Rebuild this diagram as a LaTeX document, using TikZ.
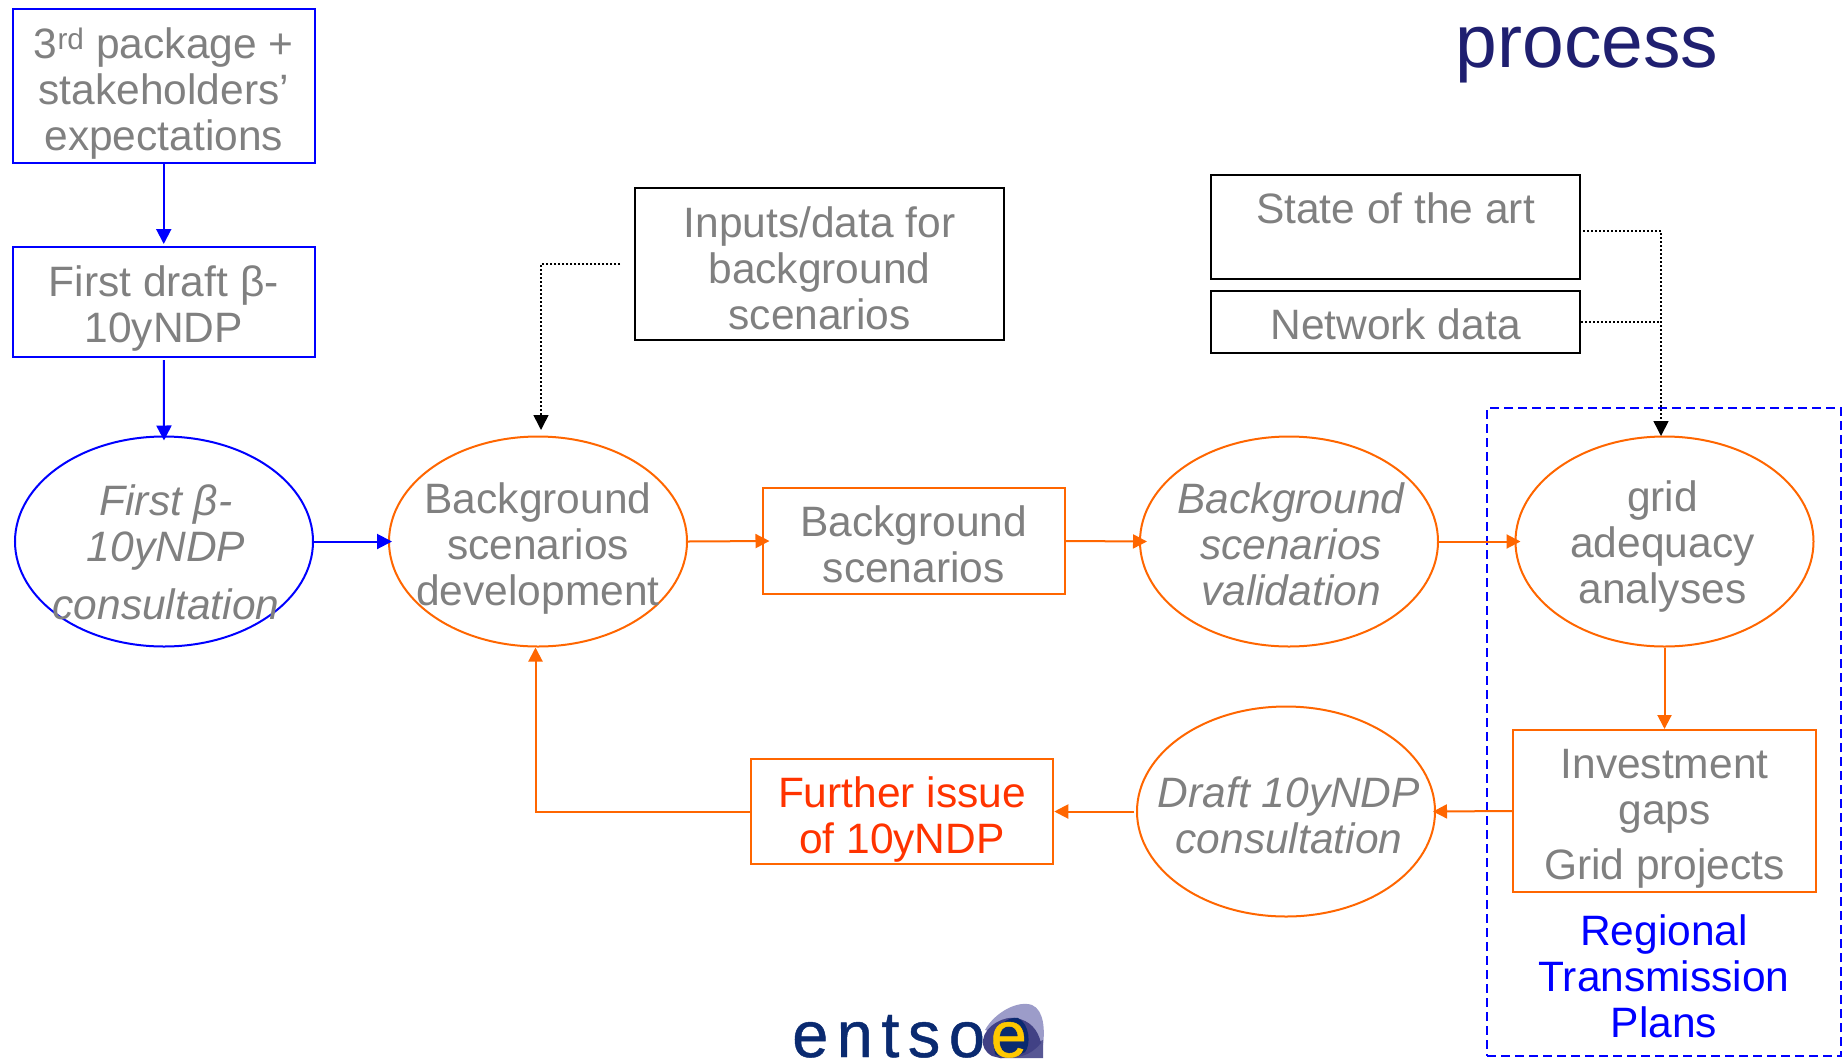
\documentclass[tikz,border=0pt]{standalone}
\usepackage{fontspec}
\setmainfont{Liberation Sans}
\usetikzlibrary{arrows.meta,shapes.geometric}
\definecolor{bluel}{HTML}{0000FF}
\definecolor{orangel}{HTML}{FF6600}
\definecolor{greyt}{HTML}{808080}
\definecolor{redt}{HTML}{FF3300}
\definecolor{navyt}{HTML}{1F1F70}
\definecolor{logon}{HTML}{0A2A70}
\definecolor{logoy}{HTML}{FFC800}
\tikzset{
  pbox/.style={draw,line width=2pt,rectangle,inner sep=0pt},
  pell/.style={draw,line width=2pt,ellipse,inner sep=0pt,minimum width=298pt,minimum height=210pt},
  txt/.style={align=center,text=greyt,inner sep=0pt,font=\fontsize{42.5}{46}\selectfont},
  itxt/.style={txt,font=\fontsize{42.5}{46}\selectfont\itshape},
  barrow/.style={line width=2pt,draw=bluel,-{Triangle[length=15pt,width=15pt,fill=bluel]}},
  oarrow/.style={line width=2pt,draw=orangel,-{Triangle[length=14pt,width=14pt,fill=orangel]}},
  karrow/.style={line width=1.6pt,dash pattern=on 1.6pt off 2.4pt,-{Triangle[length=15pt,width=15pt,fill=black]}},
  kline/.style={line width=1.6pt,dash pattern=on 1.6pt off 2.4pt}
}
\begin{document}
\begin{tikzpicture}[x=1pt,y=-1pt]
\useasboundingbox (0,0) rectangle (1845,1058);
% dashed region
\node[draw=bluel,dashed,line width=2pt,minimum width=354pt,minimum height=648pt,inner sep=0pt,dash pattern=on 9pt off 5pt] (region) at (1664,732) {};
% boxes
\node[pbox,draw=bluel,minimum width=302.5pt,minimum height=154pt] (b1) at (163.75,86) {};
\node[txt,yshift=-8pt] (t1) at (b1) {3\textsuperscript{rd} package +\\stakeholders’\\expectations};
\node[pbox,draw=bluel,minimum width=302.5pt,minimum height=110pt] (b2) at (163.75,302) {};
\node[txt,yshift=-6.5pt] (t2) at (b2) {First draft β-\\10yNDP};
\node[pbox,minimum width=369pt,minimum height=152pt] (inp) at (819.5,264) {};
\node[txt,yshift=-4pt] (t3) at (inp) {Inputs/data for\\background\\scenarios};
\node[pbox,minimum width=369pt,minimum height=104pt] (state) at (1395.5,227) {};
\node[txt,yshift=-4pt] (t4) at (state) {State of the art\\\mbox{}};
\node[pbox,minimum width=369pt,minimum height=62pt] (net) at (1395.5,322) {};
\node[txt,yshift=-2pt] (t5) at (net) {Network data};
\node[pbox,draw=orangel,minimum width=302.5pt,minimum height=106pt] (bg) at (913.75,541) {};
\node[txt,yshift=-3pt] (t6) at (bg) {Background\\scenarios};
\node[pbox,draw=orangel,minimum width=302.5pt,minimum height=162pt] (inv) at (1664.5,811) {};
\node[txt,yshift=-8pt] (t7) at (inv) {Investment\\gaps\\[9pt]Grid projects};
\node[pbox,draw=orangel,minimum width=302.5pt,minimum height=105pt] (fur) at (902,811.5) {};
\node[txt,text=redt,yshift=-8pt] (t8) at (fur) {Further issue\\of 10yNDP};
% ellipses
\node[pell,draw=bluel] (e1) at (164,541.5) {};
\node[itxt,yshift=-11pt,xshift=2pt] (t9) at (e1) {First β-\\10yNDP\\[12pt]consultation};
\node[pell,draw=orangel] (e2) at (538,541.5) {};
\node[txt,yshift=-7.5pt] (t10) at (e2) {Background\\scenarios\\development};
\node[pell,draw=orangel] (e3) at (1289,541.5) {};
\node[itxt,yshift=-3pt,xshift=2pt] (t11) at (e3) {Background\\scenarios\\validation};
\node[pell,draw=orangel] (e4) at (1664.5,541.5) {};
\node[txt,yshift=-5pt,xshift=-2pt] (t12) at (e4) {grid\\adequacy\\analyses};
\node[pell,draw=orangel] (e5) at (1286,811.5) {};
\node[itxt,yshift=-4pt,xshift=3pt] (t13) at (e5) {Draft 10yNDP\\consultation};
% free labels
\node[txt,text=bluel] (t14) at (1664,976) {Regional\\Transmission\\Plans};
\node[inner sep=0pt,anchor=base,text=navyt,font=\fontsize{75}{80}\selectfont] (title) at (1587,67) {process};
% connectors
\draw[barrow] (b1.south) -- ([yshift=2pt]b2.north);
\draw[barrow] ([yshift=-2pt]b2.south) -- ([yshift=-5pt]e1.north);
\draw[barrow] (e1.east) -- ([xshift=4pt]e2.west);
\draw[oarrow] (e2.east) -- ([xshift=8pt]bg.west);
\draw[oarrow] (bg.east) -- ([xshift=8pt]e3.west);
\draw[oarrow] (e3.east) -- ([xshift=6pt]e4.west);
\draw[oarrow] (e4.south) -- (inv.north);
\draw[oarrow] (inv.west) -- ([xshift=-3pt]e5.east);
\draw[oarrow] ([xshift=-2pt]e5.west) -- (fur.east);
\draw[oarrow] (fur.west) -| ([xshift=-2.5pt]e2.south);
\coordinate (inpS) at (620,264);
\coordinate (inpT) at (541,430);
\draw[karrow] (inpS) -| (inpT);
\coordinate (stateT) at (1661,436);
\coordinate (netJ) at (1661,322);
\draw[karrow] ([xshift=2pt,yshift=-4pt]state.east) -| (stateT);
\draw[kline] (net.east) -- (netJ);
% logo
\node[inner sep=0pt,anchor=base west,text=logon,font=\fontsize{65}{70}\selectfont\addfontfeature{LetterSpace=13,FakeBold=0.7}] (logo) at (792,1057) {entso};
\fill[fill=blue!30!gray!60!white] (985,1030) .. controls (995,1012) and (1018,1000) .. (1032,1005) .. controls (1044,1010) and (1045,1030) .. (1043,1045) -- (1020,1040) -- cycle;
\fill[fill=navyt!75!white] (1043,1040) -- (1043,1058) -- (1000,1058) -- cycle;
\fill[fill=navyt!85!white] (983,1040) .. controls (985,1025) and (1005,1016) .. (1015,1018) .. controls (1030,1020) and (1038,1030) .. (1041,1043) .. controls (1030,1056) and (1020,1058) .. (1000,1058) -- (992,1056) .. controls (985,1052) and (982,1046) .. (983,1040) -- cycle;
\fill[fill=logon] (993,1040) .. controls (995,1025) and (1010,1016) .. (1018,1018) .. controls (1030,1024) and (1031,1045) .. (1025,1052) .. controls (1015,1058) and (1000,1058) .. (995,1054) -- cycle;
\node[inner sep=0pt,anchor=base west,text=logoy,font=\fontsize{65}{70}\selectfont\addfontfeature{FakeBold=0.7}] (logoe) at (990.5,1057) {e};
\end{tikzpicture}
\end{document}
